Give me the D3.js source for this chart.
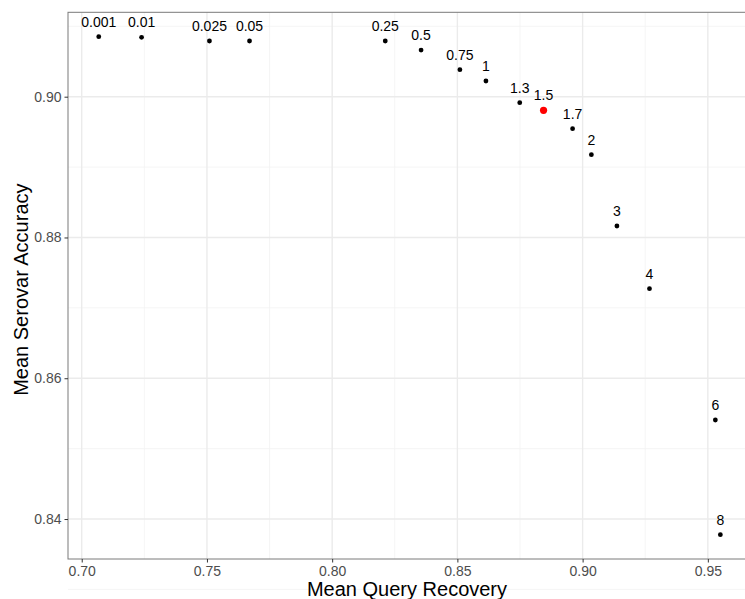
<!DOCTYPE html>
<html>
<head>
<meta charset="utf-8">
<script src="https://cdn.jsdelivr.net/npm/d3@7"></script>
<style>
    body { margin: 0; background: #fff; }
    svg { display: block; font-family: "Liberation Sans", Arial, Helvetica, sans-serif; }
</style>
</head>
<body>
<div id="chart"></div>
<script>
(function () {
    "use strict";

    // threshold labels and the two means
    const labels = ["0.001", "0.01", "0.025", "0.05", "0.25", "0.5", "0.75", "1",
        "1.3", "1.5", "1.7", "2", "3", "4", "6", "8"];
    const recovery = [0.7068, 0.7239, 0.7510, 0.7670, 0.8212, 0.8355, 0.8510, 0.8614,
        0.8749, 0.8844, 0.8960, 0.9035, 0.9137, 0.9267, 0.9530, 0.9550];
    const accuracy = [0.90852, 0.90844, 0.90791, 0.90791, 0.90791, 0.90663, 0.90384, 0.90223,
        0.89915, 0.89807, 0.89545, 0.89176, 0.88163, 0.87272, 0.85407, 0.83778];
    const highlight = "1.5";

    const xTicks = [0.70, 0.75, 0.80, 0.85, 0.90, 0.95];
    const xMinor = [0.725, 0.775, 0.825, 0.875, 0.925];
    const yTicks = [0.84, 0.86, 0.88, 0.90];
    const yMinor = [0.83, 0.85, 0.87, 0.89, 0.91];

    const width = 745;
    const height = 599;
    const left = 68, top = 12.3, right = 746, bottom = 559;

    const x = d3.scaleLinear()
        .domain([0.69452, 0.96524])
        .range([left, right]);

    const y = d3.scaleLinear()
        .domain([0.83432, 0.91199])
        .range([bottom, top]);

    const data = labels.map((d, i) => ({ label: d, x: recovery[i], y: accuracy[i] }));

    const svg = d3.select("#chart").append("svg")
        .attr("width", width)
        .attr("height", height);

    const grid = svg.append("g");

    grid.selectAll(".xminor").data(xMinor).join("line")
        .attr("x1", d => x(d)).attr("x2", d => x(d))
        .attr("y1", top).attr("y2", bottom)
        .attr("stroke", "#f2f2f2").attr("stroke-width", 0.8);

    grid.selectAll(".yminor").data(yMinor).join("line")
        .attr("x1", left).attr("x2", right)
        .attr("y1", d => y(d)).attr("y2", d => y(d))
        .attr("stroke", "#f2f2f2").attr("stroke-width", 0.8);

    grid.selectAll(".xmajor").data(xTicks).join("line")
        .attr("x1", d => x(d)).attr("x2", d => x(d))
        .attr("y1", top).attr("y2", bottom)
        .attr("stroke", "#ebebeb").attr("stroke-width", 1.4);

    grid.selectAll(".ymajor").data(yTicks).join("line")
        .attr("x1", left).attr("x2", right)
        .attr("y1", d => y(d)).attr("y2", d => y(d))
        .attr("stroke", "#ebebeb").attr("stroke-width", 1.4);

    // panel border
    svg.append("rect")
        .attr("x", left).attr("y", top)
        .attr("width", right - left).attr("height", bottom - top)
        .attr("fill", "none")
        .attr("stroke", "#7a7a7a")
        .attr("stroke-width", 1);

    const xAxis = svg.append("g")
        .attr("transform", `translate(0,${bottom})`)
        .call(d3.axisBottom(x).tickValues(xTicks).tickFormat(d3.format(".2f")).tickSize(3.5).tickPadding(4));

    const yAxis = svg.append("g")
        .attr("transform", `translate(${left},0)`)
        .call(d3.axisLeft(y).tickValues(yTicks).tickFormat(d3.format(".2f")).tickSize(3.5).tickPadding(3));

    [xAxis, yAxis].forEach(a => {
        a.select(".domain").remove();
        a.selectAll(".tick line").attr("stroke", "#333");
        a.selectAll(".tick text")
            .attr("fill", "#4d4d4d")
            .attr("font-size", 14)
            .attr("font-family", "'Liberation Sans', Arial, Helvetica, sans-serif");
    });

    svg.selectAll(".pt").data(data).join("circle")
        .attr("cx", d => x(d.x))
        .attr("cy", d => y(d.y))
        .attr("r", d => d.label === highlight ? 3.6 : 2.4)
        .attr("fill", d => d.label === highlight ? "#ff0000" : "#000");

    svg.selectAll(".lbl").data(data).join("text")
        .attr("x", d => x(d.x))
        .attr("y", d => y(d.y) - 10)
        .attr("text-anchor", "middle")
        .attr("font-size", 14)
        .attr("fill", "#000")
        .text(d => d.label);

    svg.append("text")
        .attr("x", (left + right) / 2)
        .attr("y", 596)
        .attr("text-anchor", "middle")
        .attr("font-size", 20)
        .text("Mean Query Recovery");

    svg.append("text")
        .attr("transform", `translate(28,${(top + bottom) / 2 + 4}) rotate(-90)`)
        .attr("text-anchor", "middle")
        .attr("font-size", 20)
        .text("Mean Serovar Accuracy");
}());
</script>
</body>
</html>
